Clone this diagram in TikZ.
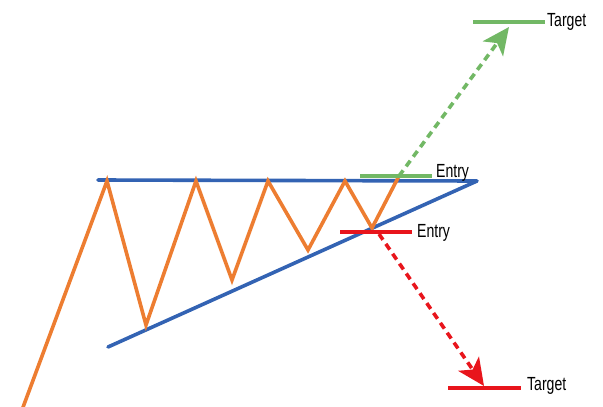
\documentclass[tikz,border=0pt]{standalone}
\usepackage{fontspec}
\setmainfont{Liberation Sans}[FakeStretch=0.74]
\usetikzlibrary{arrows.meta}
\definecolor{cOrange}{HTML}{ED7D31}
\definecolor{cBlue}{HTML}{3363B3}
\definecolor{cGreen}{HTML}{72B865}
\definecolor{cRed}{HTML}{E8151C}
\tikzset{
  trend/.style={cBlue, line width=3.6pt, line cap=round, line join=round},
  price/.style={cOrange, line width=3.6pt, line join=miter},
  level/.style={line width=3.6pt},
  move/.style={line width=3.6pt, dash pattern=on 7pt off 5pt, -{Stealth[length=27pt,width=25pt,inset=7pt]}},
  lbl/.style={font=\fontsize{19}{19}\selectfont, text=black, inner sep=0pt, anchor=west}
}
\begin{document}
\begin{tikzpicture}[x=1pt,y=-1pt]
\useasboundingbox (0,0) rectangle (603,407);
% trend lines
\coordinate (tl) at (98,180);
\coordinate (apex) at (477,181);
\coordinate (bl) at (108,347);
\draw[trend] (tl) -- (apex) -- (bl);
% price zigzag
\coordinate (p0) at (22,410);
\coordinate (p1) at (107,181);
\coordinate (p2) at (146,325);
\coordinate (p3) at (196,181);
\coordinate (p4) at (232,280);
\coordinate (p5) at (268,181);
\coordinate (p6) at (308,250);
\coordinate (p7) at (345,181);
\coordinate (p8) at (372,228);
\coordinate (p9) at (399,176);
\draw[price] (p0) -- (p1) -- (p2) -- (p3) -- (p4) -- (p5) -- (p6) -- (p7) -- (p8) -- (p9);
% green entry / target
\coordinate (ge1) at (360,176);
\coordinate (ge2) at (432,176);
\draw[level, cGreen] (ge1) -- (ge2);
\node[lbl] (gentry) at (436,173) {Entry};
\coordinate (gt1) at (473,22);
\coordinate (gt2) at (545,22);
\draw[level, cGreen] (gt1) -- (gt2);
\node[lbl] (gtarget) at (547,22) {Target};
\coordinate (gtip) at (509,27);
\draw[move, cGreen] (p9) -- (gtip);
% red entry / target
\coordinate (re1) at (340,232);
\coordinate (re2) at (412,232);
\draw[level, cRed] (re1) -- (re2);
\node[lbl] (rentry) at (417,233) {Entry};
\coordinate (rstart) at (379,234);
\coordinate (rtip) at (484,386);
\coordinate (rt1) at (448,388);
\coordinate (rt2) at (521,388);
\draw[level, cRed] (rt1) -- (rt2);
\node[lbl] (rtarget) at (527,386) {Target};
\draw[move, cRed] (rstart) -- (rtip);
\end{tikzpicture}
\end{document}
